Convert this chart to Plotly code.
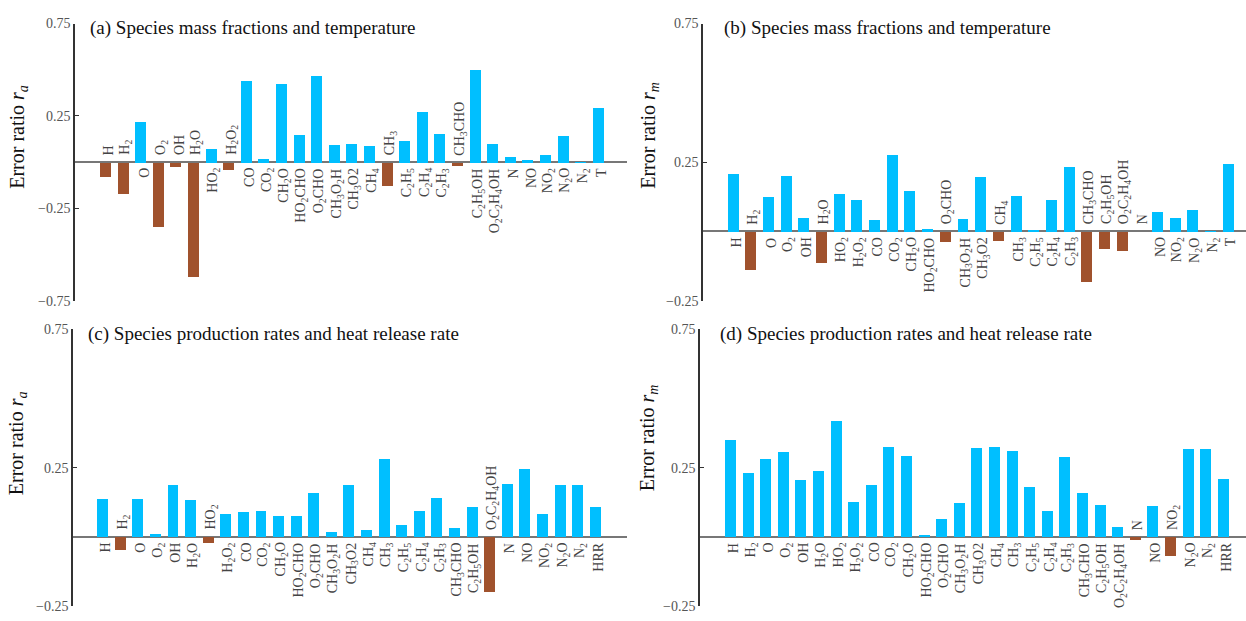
import re
import plotly.graph_objects as go

# Species order shared by all panels ("_" marks a subscript digit)
species = ["H", "H_2", "O", "O_2", "OH", "H_2O", "HO_2", "H_2O_2", "CO", "CO_2",
           "CH_2O", "HO_2CHO", "O_2CHO", "CH_3O_2H", "CH_3O2", "CH_4", "CH_3",
           "C_2H_5", "C_2H_4", "C_2H_3", "CH_3CHO", "C_2H_5OH", "O_2C_2H_4OH",
           "N", "NO", "NO_2", "N_2O", "N_2"]
labels_mass = species + ["T"]
labels_rate = species + ["HRR"]

# (a) mass fractions and temperature, r_a
r_a_mass = [-0.08, -0.17, 0.22, -0.346, -0.026, -0.62, 0.073, -0.042, 0.439, 0.021,
            0.423, 0.15, 0.47, 0.093, 0.098, 0.088, -0.126, 0.119, 0.276, 0.156,
            -0.021, 0.502, 0.098, 0.03, 0.014, 0.04, 0.145, 0.003, 0.297]
# (b) mass fractions and temperature, r_m
r_m_mass = [0.209, -0.139, 0.124, 0.202, 0.05, -0.112, 0.138, 0.114, 0.043, 0.276,
            0.149, 0.012, -0.036, 0.047, 0.198, -0.033, 0.128, 0.008, 0.114, 0.233,
            -0.181, -0.061, -0.068, 0.0, 0.071, 0.05, 0.078, 0.003, 0.244]
# (c) production rates and heat release rate, r_a
r_a_rate = [0.136, -0.046, 0.136, 0.009, 0.187, 0.133, -0.021, 0.081, 0.088, 0.092,
            0.074, 0.074, 0.158, 0.018, 0.187, 0.025, 0.282, 0.042, 0.092, 0.141,
            0.032, 0.106, -0.2, 0.19, 0.246, 0.081, 0.187, 0.187, 0.106]
# (d) production rates and heat release rate, r_m
r_m_rate = [0.349, 0.229, 0.282, 0.306, 0.204, 0.236, 0.419, 0.127, 0.187, 0.324,
            0.292, 0.007, 0.063, 0.123, 0.32, 0.324, 0.31, 0.18, 0.095, 0.289,
            0.158, 0.116, 0.035, -0.011, 0.113, -0.07, 0.317, 0.317, 0.208]

titles = ["(a) Species mass fractions and temperature",
          "(b) Species mass fractions and temperature",
          "(c) Species production rates and heat release rate",
          "(d) Species production rates and heat release rate"]
ylabels = ["Error ratio <i>r<sub>a</sub></i>", "Error ratio <i>r<sub>m</sub></i>",
           "Error ratio <i>r<sub>a</sub></i>", "Error ratio <i>r<sub>m</sub></i>"]

POS = "#00BFFF"
NEG = "#A0522D"
SERIF = "Liberation Serif, Times New Roman, serif"
W, H = 1246, 621


def fmt(name):
    return re.sub(r"_(\d)", r"<sub>\1</sub>", name)


def px_x(p):
    return p / W


def px_y(p):
    return 1 - p / H


# panel geometry in pixels: x domain, y domain (top, bottom), x range, y range, ticks
panels = [
    dict(vals=r_a_mass, labels=labels_mass, xd=(75, 627), yd=(17, 301),
         xr=(-1.73, 29.63), yr=(-0.75, 0.75), ticks=[-0.75, -0.25, 0.25, 0.75],
         title_x=88, title_y=22, ylab=(19, 133)),
    dict(vals=r_m_mass, labels=labels_mass, xd=(703, 1246), yd=(17, 301),
         xr=(-1.70, 29.0), yr=(-0.25, 0.75), ticks=[-0.25, 0.25, 0.75],
         title_x=722, title_y=22, ylab=(650, 132)),
    dict(vals=r_a_rate, labels=labels_rate, xd=(73, 627), yd=(330, 614),
         xr=(-1.68, 29.8), yr=(-0.25, 0.75), ticks=[-0.25, 0.25, 0.75],
         title_x=86, title_y=335, ylab=(17, 447)),
    dict(vals=r_m_rate, labels=labels_rate, xd=(700, 1246), yd=(330, 614),
         xr=(-1.73, 29.29), yr=(-0.25, 0.75), ticks=[-0.25, 0.25, 0.75],
         title_x=718, title_y=335, ylab=(648, 442)),
]

fig = go.Figure()
annotations = []
layout = {}

for k, p in enumerate(panels, start=1):
    xa = "x" if k == 1 else f"x{k}"
    ya = "y" if k == 1 else f"y{k}"
    xs = list(range(len(p["vals"])))
    fig.add_trace(go.Bar(
        x=xs, y=p["vals"], width=0.62,
        marker=dict(color=[POS if v > 0 else NEG for v in p["vals"]], line_width=0),
        xaxis=xa, yaxis=ya, showlegend=False, hoverinfo="skip"))

    layout["xaxis" if k == 1 else f"xaxis{k}"] = dict(
        domain=[px_x(p["xd"][0]), px_x(p["xd"][1])], range=list(p["xr"]),
        visible=False, anchor=ya, fixedrange=True)
    layout["yaxis" if k == 1 else f"yaxis{k}"] = dict(
        domain=[px_y(p["yd"][1]), px_y(p["yd"][0])], range=list(p["yr"]),
        anchor=xa, tickvals=p["ticks"],
        ticktext=[f"{t:.2f}".replace("-", "\u2212") for t in p["ticks"]],
        ticks="inside", ticklen=4, tickwidth=1.2, tickcolor="#333",
        showline=True, linecolor="#333", linewidth=1.5, showgrid=False,
        zeroline=True, zerolinecolor="#777", zerolinewidth=1.6,
        tickfont=dict(family=SERIF, size=14, color="#555"), fixedrange=True)

    for i, (lab, v) in enumerate(zip(p["labels"], p["vals"])):
        above = v <= 0
        annotations.append(dict(
            x=i, y=0, xref=xa, yref=ya, text=fmt(lab), textangle=-90,
            showarrow=False, xanchor="center",
            yanchor="bottom" if above else "top",
            yshift=5 if above else -4, xshift=3,
            font=dict(family=SERIF, size=14, color="#444")))

    annotations.append(dict(
        x=px_x(p["title_x"]), y=px_y(p["title_y"]), xref="paper", yref="paper",
        text=titles[k - 1], showarrow=False, xanchor="left", yanchor="middle",
        font=dict(family=SERIF, size=19, color="#111")))
    annotations.append(dict(
        x=px_x(p["ylab"][0]), y=px_y(p["ylab"][1]), xref="paper", yref="paper",
        text=ylabels[k - 1], textangle=-90, showarrow=False,
        xanchor="center", yanchor="middle",
        font=dict(family=SERIF, size=20, color="#111")))

fig.update_layout(
    width=W, height=H, margin=dict(l=0, r=0, t=0, b=0),
    paper_bgcolor="white", plot_bgcolor="white",
    bargap=0, annotations=annotations, **layout)

fig.write_html("out.html")
